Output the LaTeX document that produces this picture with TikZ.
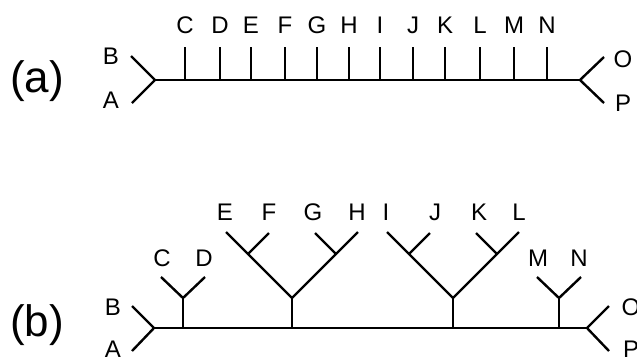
\documentclass[tikz,border=0pt]{standalone}
\usepackage{fontspec}
\setmainfont{Liberation Sans}
\begin{document}
\begin{tikzpicture}[x=1pt,y=-1pt,
  edge/.style={line width=2.4pt,line cap=butt,line join=miter},
  lbl/.style={inner sep=0pt,font=\fontsize{24}{24}\selectfont},
  panel/.style={inner sep=0pt,font=\fontsize{44}{44}\selectfont}]
\useasboundingbox (0,0) rectangle (637,360);
% ---------- panel (a) ----------
\node[panel] (pa) at (37,81) {(a)};
\node[lbl] (aB) at (111,56) {B};
\node[lbl] (aA) at (111,100) {A};
\node[lbl] (aO) at (623,59) {O};
\node[lbl] (aP) at (623,103) {P};
\coordinate (aL) at (155,80);
\coordinate (aR) at (580,80);
\coordinate (aBe) at (131,56);
\coordinate (aAe) at (132,103);
\coordinate (aOe) at (604,57);
\coordinate (aPe) at (604,103);
\draw[edge] (aBe) -- (aL) -- (aAe);
\draw[edge] (aOe) -- (aR) -- (aPe);
\draw[edge] (aL) -- (aR);
\foreach \n/\x in {C/185,D/220,E/251,F/285,G/317,H/349,I/380,J/413,K/445,L/480,M/514,N/547}{
  \node[lbl] (a\n) at (\x,25) {\n};
  \coordinate (a\n t) at (\x,47);
  \coordinate (a\n b) at (\x,80);
  \draw[edge] (a\n t) -- (a\n b);
}
% ---------- panel (b) ----------
\node[panel] (pb) at (37,325) {(b)};
\node[lbl] (bB) at (113,307) {B};
\node[lbl] (bA) at (113,349) {A};
\node[lbl] (bO) at (631,307) {O};
\node[lbl] (bP) at (631,349) {P};
\coordinate (bL) at (154,328);
\coordinate (bR) at (587,328);
\coordinate (bBe) at (132,306);
\coordinate (bAe) at (132,351);
\coordinate (bOe) at (609,306);
\coordinate (bPe) at (609,351);
\draw[edge] (bBe) -- (bL) -- (bAe);
\draw[edge] (bOe) -- (bR) -- (bPe);
\draw[edge] (bL) -- (bR);
% C D subtree
\node[lbl] (bC) at (162,258) {C};
\node[lbl] (bD) at (204,258) {D};
\coordinate (cd0) at (183,328);
\coordinate (cd1) at (183,298);
\coordinate (cdC) at (161,277);
\coordinate (cdD) at (205,277);
\draw[edge] (cd0) -- (cd1);
\draw[edge] (cdC) -- (cd1) -- (cdD);
% E F G H subtree
\node[lbl] (bE) at (225,212) {E};
\node[lbl] (bF) at (269,212) {F};
\node[lbl] (bG) at (313,212) {G};
\node[lbl] (bH) at (357,212) {H};
\coordinate (eh0) at (292,328);
\coordinate (eh1) at (292,298);
\coordinate (ehE) at (226,232);
\coordinate (ehH) at (358,232);
\coordinate (ehF0) at (248,254);
\coordinate (ehFe) at (269,233);
\coordinate (ehG0) at (336,254);
\coordinate (ehGe) at (315,233);
\draw[edge] (eh0) -- (eh1);
\draw[edge] (ehE) -- (eh1) -- (ehH);
\draw[edge] (ehF0) -- (ehFe);
\draw[edge] (ehG0) -- (ehGe);
% I J K L subtree
\node[lbl] (bI) at (386,212) {I};
\node[lbl] (bJ) at (435,212) {J};
\node[lbl] (bK) at (479,212) {K};
\node[lbl] (bL) at (519,212) {L};
\coordinate (il0) at (453,328);
\coordinate (il1) at (453,298);
\coordinate (ilI) at (387,232);
\coordinate (ilL) at (519,232);
\coordinate (ilJ0) at (409,254);
\coordinate (ilJe) at (430,233);
\coordinate (ilK0) at (497,254);
\coordinate (ilKe) at (476,233);
\draw[edge] (il0) -- (il1);
\draw[edge] (ilI) -- (il1) -- (ilL);
\draw[edge] (ilJ0) -- (ilJe);
\draw[edge] (ilK0) -- (ilKe);
% M N subtree
\node[lbl] (bM) at (538,258) {M};
\node[lbl] (bN) at (579,258) {N};
\coordinate (mn0) at (559,328);
\coordinate (mn1) at (559,298);
\coordinate (mnM) at (537,277);
\coordinate (mnN) at (581,277);
\draw[edge] (mn0) -- (mn1);
\draw[edge] (mnM) -- (mn1) -- (mnN);
\end{tikzpicture}
\end{document}
